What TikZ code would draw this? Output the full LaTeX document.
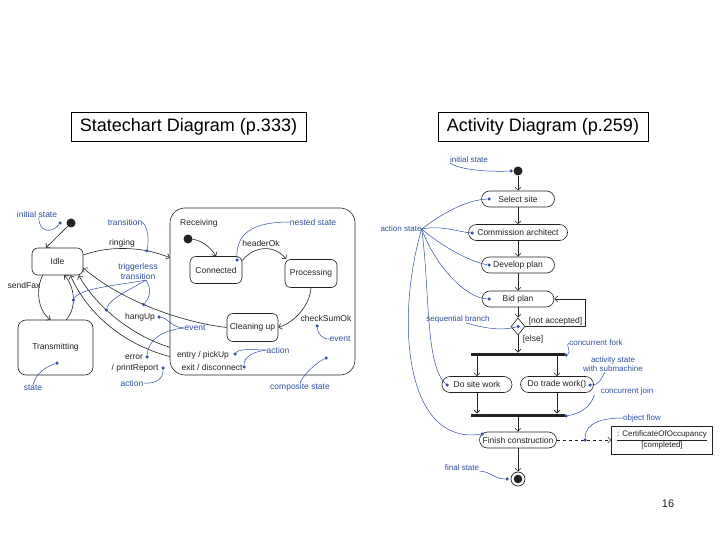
\documentclass[tikz,border=0pt]{standalone}
\usepackage{fontspec}
\setmainfont{Liberation Sans}
\usepackage{tikz}
\usetikzlibrary{arrows.meta,positioning,shapes.geometric,calc}
\definecolor{ink}{HTML}{222222}
\definecolor{noteblue}{HTML}{2F4F9F}

\begin{document}
\begin{tikzpicture}[x=1pt,y=1pt,
  every node/.style={font=\fontsize{8.5}{10.5}\selectfont,align=center,text=ink},
  titlebox/.style={draw=black,line width=0.8pt,minimum height=29pt,inner sep=0,font=\fontsize{18}{20}\selectfont,text=black},
  statebox/.style={draw=ink,fill=white,rounded corners=6pt,inner sep=0,line width=0.6pt},
  actbox/.style={draw=ink,fill=white,rounded corners=8pt,inner sep=0,minimum height=16pt,line width=0.6pt},
  objbox/.style={draw=ink,fill=white,inner sep=2pt,minimum width=101pt,minimum height=28pt,line width=0.6pt,font=\fontsize{8}{9}\selectfont},
  decision/.style={diamond,draw=ink,fill=white,line width=0.6pt,minimum width=14pt,minimum height=17pt,inner sep=0},
  bar/.style={fill=ink,inner sep=0,minimum width=94pt,minimum height=3.5pt},
  idot/.style={circle,fill=ink,inner sep=0,minimum size=9pt},
  finalst/.style={circle,draw=ink,line width=0.7pt,inner sep=0,minimum size=14pt,
    path picture={\fill[ink] (path picture bounding box.center) circle (4.3pt);}},
  bdot/.style={circle,fill=noteblue,inner sep=0,minimum size=3.5pt},
  lbl/.style={inner sep=0},
  note/.style={inner sep=0,text=noteblue},
  anote/.style={note,font=\fontsize{8}{9}\selectfont},
  lead/.style={draw=noteblue,line width=0.5pt},
  arr/.style={draw=ink,line width=0.6pt,-{Straight Barb[length=3pt,width=6pt]}}]
\useasboundingbox (0,0) rectangle (720,-540);

% titles
\node[titlebox,minimum width=235] (sctitle) at (188.5,-126.5) {Statechart Diagram (p.333)};
\node[titlebox,minimum width=210] (actitle) at (543,-126.5) {Activity Diagram (p.259)};
\node[lbl,font=\fontsize{11}{12}\selectfont] (pgnum) at (668,-504) {16};

% statechart: states
\node[idot] (sinit) at (71,-223) {};
\node[statebox,minimum width=51,minimum height=27] (idle) at (57.5,-261.5) {Idle};
\node[statebox,minimum width=75,minimum height=55,rounded corners=8pt] (trans) at (55.5,-347.5) {Transmitting};
\node[statebox,fill=none,minimum width=185,minimum height=167,rounded corners=15pt] (recv) at (262.5,-291.5) {};
\node[lbl,anchor=west] (recvlbl) at (180,-223) {Receiving};
\node[idot] (rinit) at (188,-239) {};
\node[statebox,minimum width=52,minimum height=27] (conn) at (216,-270) {Connected};
\node[statebox,minimum width=52,minimum height=28] (proc) at (311,-273.5) {Processing};
\node[statebox,minimum width=51,minimum height=28] (clean) at (252.5,-327.5) {Cleaning up};

% statechart: event and action texts
\node[lbl] (sendlbl) at (24,-285) {sendFax};
\node[lbl] (ringlbl) at (122,-243) {ringing};
\node[lbl] (hdrlbl) at (261,-243) {headerOk};
\node[lbl] (cklbl) at (326,-318) {checkSumOk};
\node[lbl] (hanglbl) at (140,-317) {hangUp};
\node[lbl] (errlbl) at (134,-357) {error};
\node[lbl] (prlbl) at (135,-368) {/ printReport};
\node[lbl] (entrylbl) at (203,-355) {entry / pickUp};
\node[lbl] (exitlbl) at (212,-367) {exit / disconnect};

% statechart: transitions
\draw[arr] (sinit) -- (idle.130);
\draw[arr] (idle.223) .. controls (36,-288) and (37,-310) .. (trans.100);
\draw[arr] (trans.69) .. controls (77,-308) and (75,-287) .. (idle.296) node[bdot,pos=0.45] (dret) {};
\draw[arr] (idle.14) .. controls (110,-245) and (145,-247) .. (recv.160) node[bdot,pos=0.72] (dring) {};
\draw[arr] (clean.west) .. controls (180,-322) and (120,-300) .. (idle.346) node[bdot,pos=0.55] (dclean) {};
\draw[arr] (recv.211) .. controls (130,-335) and (95,-305) .. (idle.327) node[bdot,pos=0.6] (dhup) {};
\draw[arr] (recv.215) .. controls (125,-345) and (88,-315) .. (idle.313);
\draw[arr] (rinit) .. controls (200,-240) and (210,-246) .. (conn.north);
\draw[arr] (conn.20) .. controls (255,-245) and (275,-245) .. (proc.150);
\draw[arr] (proc.south) .. controls (310,-305) and (295,-322) .. (clean.east);

% statechart: notes
\node[note] (ninit) at (37,-214) {initial state};
\node[note] (ntrans) at (125,-222) {transition};
\node[note] (ntrig) at (138,-271.5) {triggerless\\transition};
\node[note] (nnest) at (313,-222) {nested state};
\node[note] (nev1) at (195,-328) {event};
\node[note] (nev2) at (340,-339) {event};
\node[note] (nact1) at (278,-350) {action};
\node[note] (nact2) at (132,-383) {action};
\node[note] (nstate) at (33,-388) {state};
\node[note] (ncomp) at (300,-387) {composite state};
\node[bdot] (dinit) at (60,-223) {};
\node[bdot] (dstate) at (57,-363) {};
\node[bdot] (dnest) at (237,-260) {};
\node[bdot] (dck) at (317,-326) {};
\node[bdot] (dhang) at (159,-317) {};
\node[bdot] (derr) at (147,-357) {};
\node[bdot] (dpr) at (163,-368) {};
\node[bdot] (dentry) at (235,-354) {};
\node[bdot] (dexit) at (244,-367) {};
\node[bdot] (dcomp) at (326,-358) {};
\draw[lead] ([xshift=2]ninit.south) .. controls (38,-232) and (52,-234) .. (dinit);
\draw[lead] (ntrans.east) .. controls (150,-230) and (148,-245) .. (dring);
\draw[lead] ([xshift=8]ntrig.south) .. controls (120,-285) and (80,-288) .. (dret);
\draw[lead] ([xshift=8]ntrig.south) .. controls (130,-290) and (110,-298) .. (dhup);
\draw[lead] ([xshift=8]ntrig.south) .. controls (152,-290) and (150,-297) .. (dclean);
\draw[lead] (nnest.west) .. controls (250,-222) and (236,-235) .. (dnest);
\draw[lead] (dck) .. controls (318,-334) and (322,-339) .. (nev2.west);
\draw[lead] (nev1.west) .. controls (172,-328) and (168,-318) .. (dhang);
\draw[lead] (nev1.west) .. controls (162,-330) and (148,-340) .. (derr);
\draw[lead] (nact1.west) .. controls (255,-350) and (240,-348) .. (dentry);
\draw[lead] (nact1.west) .. controls (252,-352) and (244,-357) .. (dexit);
\draw[lead] (nact2.east) .. controls (158,-384) and (163,-378) .. (dpr);
\draw[lead] (nstate.north) .. controls (36,-372) and (48,-366) .. (dstate);
\draw[lead] (ncomp.north) .. controls (305,-372) and (318,-362) .. (dcomp);

% activity diagram: states
\node[idot] (ainit) at (518,-171) {};
\node[actbox,minimum width=73] (select) at (518,-199) {Select site};
\node[actbox,minimum width=99] (commis) at (518,-232.5) {Commission architect};
\node[actbox,minimum width=73] (devel) at (518,-265) {Develop plan};
\node[actbox,minimum width=72] (bid) at (518,-299) {Bid plan};
\node[decision] (branch) at (518,-326.5) {};
\node[bar] (fork) at (518,-354.5) {};
\node[actbox,minimum width=70] (site) at (477,-384.5) {Do site work};
\node[actbox,minimum width=73] (trade) at (557,-384.5) {Do trade work()};
\node[bar] (join) at (518,-415.5) {};
\node[actbox,minimum width=77] (finish) at (518,-440) {Finish construction};
\node[objbox] (cert) at (662,-440) {\underline{: CertificateOfOccupancy}\\{}[completed]};
\node[finalst] (afinal) at (518,-479) {};
\node[lbl] (notacc) at (555.5,-321) {[not accepted]};
\node[lbl] (elsetxt) at (533,-339) {[else]};

% activity diagram: flows
\draw[arr] (ainit) -- (select);
\draw[arr] (select) -- (commis);
\draw[arr] (commis) -- (devel);
\draw[arr] (devel) -- (bid);
\draw[arr] (bid) -- (branch);
\draw[arr] (branch) -- (fork);
\draw[arr] (branch.east) -- ++(60,0) |- (bid.east);
\draw[arr] (fork.south -| site) -- (site);
\draw[arr] (fork.south -| trade) -- (trade);
\draw[arr] (site) -- (site |- join.north);
\draw[arr] (trade) -- (trade |- join.north);
\draw[arr] (join) -- (finish);
\draw[arr] (finish) -- (afinal);
\draw[arr,dashed] (finish) -- (cert) node[bdot,pos=0.52] (dflow) {};

% activity diagram: notes
\node[anote] (nini2) at (469,-160) {initial state};
\node[anote] (nastate) at (401,-229) {action state};
\node[anote] (nseq) at (458,-319) {sequential branch};
\node[anote] (nfork) at (596,-343) {concurrent fork};
\node[anote] (nsub) at (613,-364.5) {activity state\\with submachine};
\node[anote] (njoin) at (627,-391) {concurrent join};
\node[anote] (nflow) at (642,-418) {object flow};
\node[anote] (nfinal) at (462,-468) {final state};
\node[bdot] (dinit2) at (511,-171) {};
\node[bdot] (dsel) at (489,-199) {};
\node[bdot] (dcom) at (472,-233) {};
\node[bdot] (ddev) at (489,-265) {};
\node[bdot] (dbid) at (489,-299) {};
\node[bdot] (dbr) at (518,-326.5) {};
\node[bdot] (dfork) at (566,-355) {};
\node[bdot] (dsite) at (447,-385) {};
\node[bdot] (dtrade) at (590,-385) {};
\node[bdot] (djoin) at (566,-416) {};
\node[bdot] (dfin) at (482,-434) {};
\node[bdot] (dfinal) at (507,-479) {};
\draw[lead] (nini2.south west) .. controls (460,-170) and (490,-172) .. (dinit2);
\draw[lead] (nastate.east) .. controls (440,-215) and (465,-200) .. (dsel);
\draw[lead] (nastate.east) .. controls (440,-225) and (460,-232) .. (dcom);
\draw[lead] (nastate.east) .. controls (440,-245) and (470,-262) .. (ddev);
\draw[lead] (nastate.east) .. controls (435,-265) and (465,-298) .. (dbid);
\draw[lead] (nastate.east) .. controls (430,-290) and (425,-365) .. (dsite);
\draw[lead] (nastate.east) .. controls (395,-320) and (405,-445) .. (dfin);
\draw[lead] ([xshift=8]nseq.south) .. controls (490,-330) and (505,-330) .. (dbr);
\draw[lead] (nfork.west) to[out=190,in=20] (dfork);
\draw[lead] ([xshift=-8]nsub.south) to[out=240,in=0] (dtrade);
\draw[lead] ([xshift=-6]njoin.south west) to[out=250,in=10] (djoin);
\draw[lead] (nflow.west) to[out=180,in=90] (dflow);
\draw[lead] (nfinal.south east) to[out=0,in=180] (dfinal);
\end{tikzpicture}
\end{document}
